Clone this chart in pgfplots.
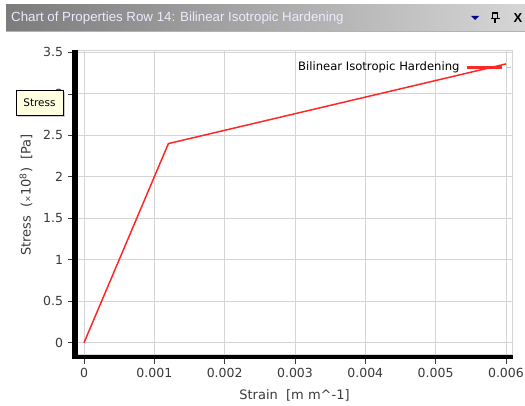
\documentclass[border=0pt]{standalone}
\usepackage{pgfplots}
\pgfplotsset{compat=1.18}
\usepackage{fontspec}
\setmainfont{DejaVu Sans}
\newfontfamily\titlefont{Liberation Sans}

\definecolor{gridgray}{HTML}{D4D4D4}
\definecolor{ticktext}{HTML}{3A3A3A}
\definecolor{curve}{HTML}{FF2828}
\definecolor{tipfill}{HTML}{FFFFE1}
\definecolor{barleft}{HTML}{7C7C7C}
\definecolor{barright}{HTML}{D6D6D6}

\begin{document}
\begin{tikzpicture}[x=1pt,y=1pt]
\useasboundingbox (0,0) rectangle (525,405);
\fill[white] (0,0) rectangle (525,405);

% title bar
\shade[left color=barleft, right color=barright] (6,374) rectangle (525,400);
\draw[gray!60] (6,373.5) -- (525,373.5);
\node[anchor=west, text=white!92!blue, font=\titlefont\fontsize{13.3}{15}\selectfont, inner sep=0pt]
  at (11,387) {Chart of Properties Row 14: Bilinear Isotropic Hardening};
\fill[blue!55!black] (471,389) -- (479,389) -- (475,385) -- cycle;
% pin icon
\draw[black, line width=1.2pt] (492.5,392) rectangle (497.5,386.5);
\draw[black, line width=1.4pt] (490.5,386.5) -- (499.5,386.5);
\draw[black, line width=1.2pt] (495,386.5) -- (495,382);
\node[font=\titlefont\bfseries\fontsize{13}{14}\selectfont, inner sep=0pt] at (518,387) {X};

\begin{axis}[
  at={(77.5pt,50.5pt)}, anchor=south west,
  scale only axis, width=435pt, height=304.5pt,
  xmin=-0.0000925, xmax=0.006093,
  ymin=-0.142, ymax=3.528,
  xtick={0,0.001,0.002,0.003,0.004,0.005,0.006},
  ytick={0,0.5,1,1.5,2,2.5,3,3.5},
  xticklabels={0,0.001,0.002,0.003,0.004,0.005,0.006},
  yticklabels={0,0.5,1,1.5,2,2.5,3,3.5},
  scaled x ticks=false,
  grid=major,
  grid style={gridgray, line width=0.9pt},
  axis line style={gridgray, line width=0.9pt},
  tick align=outside,
  major tick length=9pt,
  tick style={ticktext, line width=0.6pt},
  xtick pos=bottom, ytick pos=left,
  tick label style={font=\fontsize{12.5}{14}\selectfont, text=ticktext},
  yticklabel style={anchor=east, xshift=-2pt},
  xticklabel style={anchor=north, yshift=-1pt},
  clip=false,
]
\addplot[curve, line width=1.5pt] coordinates {
  (0, 0)
  (0.0012, 2.4)
  (0.006, 3.36)
};
% thick black left and bottom spines
\fill[black] (rel axis cs:0,0) ++(-5.5pt,-4.5pt) rectangle (rel axis cs:0,1);
\fill[black] (rel axis cs:0,0) ++(-5.5pt,-4.5pt) rectangle (rel axis cs:1,0);
\end{axis}

% legend
\node[anchor=west, font=\fontsize{11.6}{13}\selectfont, text=black, inner sep=0pt] at (298,338) {Bilinear Isotropic Hardening};
\draw[curve, line width=3.5pt] (467,337.5) -- (502,337.5);
\draw[blue!25, line width=1.5pt] (506,337.5) -- (511,337.5);

% tooltip
\fill[gray!40] (18,288) rectangle (65,313);
\draw[black, fill=tipfill, line width=0.6pt] (16,290) rectangle (63,315);
\node[font=\fontsize{10.5}{12}\selectfont, inner sep=0pt] at (39.5,302.5) {Stress};

% axis labels
\node[rotate=90, font=\fontsize{13}{15}\selectfont, text=ticktext, inner sep=0pt] at (26,210)
  {Stress\ \ ({\fontsize{8}{9}\selectfont ×}10\textsuperscript{8})\ \ [Pa]};
\node[font=\fontsize{13}{15}\selectfont, text=ticktext, inner sep=0pt] at (294.5,10)
  {Strain\ \ [m m\^{}-1]};
\end{tikzpicture}
\end{document}
